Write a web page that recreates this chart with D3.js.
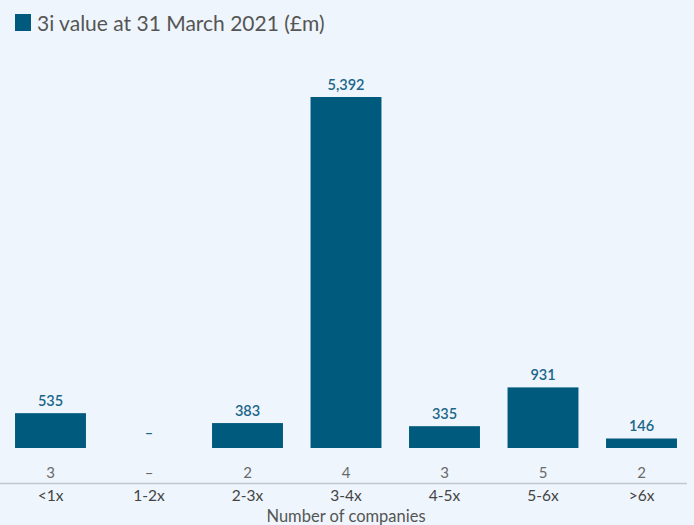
<!DOCTYPE html>
<html><head><meta charset="utf-8">
<script src="https://cdn.jsdelivr.net/npm/d3@7"></script>
<style>
html,body{margin:0;padding:0;background:#eef5fc;}
svg{display:block;font-family:Lato,"Open Sans",sans-serif;}
</style></head>
<body><svg id="c" width="694" height="525"></svg>
<script>
const categories = ["<1x","1-2x","2-3x","3-4x","4-5x","5-6x",">6x"];
const values = [535, 0, 383, 5392, 335, 931, 146];
const valueLabels = ["535","–","383","5,392","335","931","146"];
const companyCounts = ["3","–","2","4","3","5","2"];
const legendLabel = "3i value at 31 March 2021 (£m)";
const axisTitle = "Number of companies";

const svg = d3.select("#c");
const W = 694, H = 525;
const barColor = "#005a7d";
const baseY = 448;

const x = d3.scaleBand().domain(categories).range([1.25, 690.75]).paddingInner(0.28).paddingOuter(0.14);
const y = d3.scaleLinear().domain([0, 5392]).range([baseY, 97]);

svg.append("rect").attr("width", W).attr("height", H).attr("fill", "#eef5fc");

// legend
svg.append("rect").attr("x", 15).attr("y", 14).attr("width", 16).attr("height", 17).attr("fill", barColor);
svg.append("text").attr("x", 37).attr("y", 31).attr("font-size", 21).attr("fill", "#555")
  .text(legendLabel);

// bars
svg.selectAll("rect.bar").data(categories).enter().append("rect")
  .attr("class", "bar")
  .attr("x", d => x(d)).attr("width", x.bandwidth())
  .attr("y", (d, i) => y(values[i])).attr("height", (d, i) => baseY - y(values[i]))
  .attr("fill", barColor);

// value labels
svg.selectAll("text.val").data(categories).enter().append("text")
  .attr("class", "val")
  .attr("x", d => x(d) + x.bandwidth() / 2)
  .attr("y", (d, i) => y(values[i]) - (values[i] === 0 ? 10 : 7))
  .attr("text-anchor", "middle").attr("font-size", 14.5).attr("font-weight", 600)
  .attr("fill", "#1b6689")
  .text((d, i) => valueLabels[i]);

// company counts
svg.selectAll("text.cnt").data(categories).enter().append("text")
  .attr("class", "cnt")
  .attr("x", d => x(d) + x.bandwidth() / 2)
  .attr("y", 478)
  .attr("text-anchor", "middle").attr("font-size", 15)
  .attr("fill", "#6a6a6a")
  .text((d, i) => companyCounts[i]);

// axis
const axis = d3.axisBottom(x).tickSize(0).tickPadding(0);
const g = svg.append("g").attr("transform", "translate(0,483.5)").call(axis);
g.select(".domain").remove();
g.selectAll("text").attr("font-size", 15.5).attr("fill", "#444").attr("font-family", "Lato,'Open Sans',sans-serif")
  .attr("dy", null).attr("y", 17);
svg.append("line").attr("x1", 0).attr("x2", 687).attr("y1", 483.5).attr("y2", 483.5)
  .attr("stroke", "#c4c8cc").attr("stroke-width", 1.5);

svg.append("text").attr("x", 346).attr("y", 522).attr("text-anchor", "middle")
  .attr("font-size", 16.5).attr("fill", "#555").text(axisTitle);
</script></body></html>
